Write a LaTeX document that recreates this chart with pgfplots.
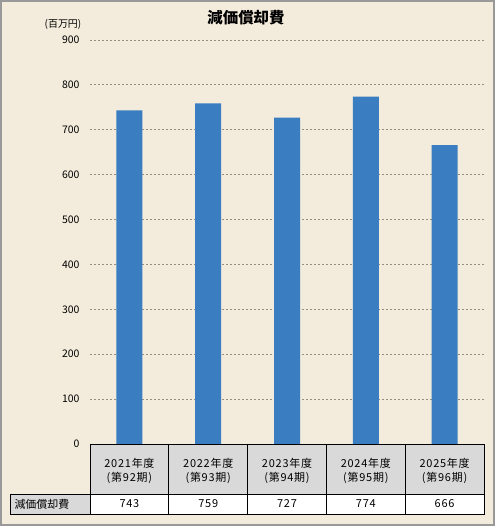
\documentclass[border=0pt]{standalone}
\usepackage{pgfplots}
\pgfplotsset{compat=1.18}
\usepackage{fontspec}
\setmainfont{Noto Sans CJK JP}
\newfontfamily\spaced[LetterSpace=7]{Noto Sans CJK JP}
\definecolor{bg}{RGB}{243,236,220}
\definecolor{barblue}{RGB}{58,125,193}
\definecolor{gridc}{RGB}{150,142,134}
\definecolor{cellgray}{RGB}{217,217,217}
\begin{document}
\begin{tikzpicture}[x=1bp,y=1bp]
\fill[bg] (0,0) rectangle (495,526);
\draw[gray!80, line width=2bp] (1,1) rectangle (494,525);
\begin{axis}[
  at={(90bp,82bp)}, anchor=south west,
  scale only axis, width=394bp, height=404bp,
  xmin=-0.5, xmax=4.5, ymin=0, ymax=900,
  ytick={0,100,...,900},
  xtick=\empty,
  axis line style={draw=none},
  major tick length=0pt,
  ymajorgrids,
  grid style={gridc, dash pattern=on 2bp off 2bp, line width=0.8bp},
  /pgf/number format/assume math mode=true,
  yticklabel style={font=\fontsize{10.5}{11}\selectfont, anchor=east, xshift=-7bp},
  ybar, bar width=26bp,
  clip=false,
]
\addplot[fill=barblue, draw=none] coordinates {(0,743) (1,759) (2,727) (3,774) (4,666)};
\end{axis}
% title and unit
\node[font=\bfseries\fontsize{15.5}{17}\selectfont] at (246,508) {減価償却費};
\node[font=\fontsize{10}{11}\selectfont] at (63,502) {(百万円)};
% table
\fill[cellgray] (90,32) rectangle (484,82);
\fill[cellgray] (10,12) rectangle (90,32);
\fill[white] (90,12) rectangle (484,32);
\draw[black, line width=0.9bp] (90,82) -- (484,82) -- (484,12) -- (10,12) -- (10,32) -- (484,32);
\draw[black, line width=0.9bp] (90,82) -- (90,12);
\foreach \i in {1,2,3,4} {
  \draw[black, line width=0.9bp] ({90+78.8*\i},82) -- ({90+78.8*\i},12);
}
\foreach \i/\y/\k/\v in {0/2021/92/743, 1/2022/93/759, 2/2023/94/727, 3/2024/95/774, 4/2025/96/666} {
  \node[font=\spaced\fontsize{11}{14}\selectfont, align=center] at ({129.4+78.8*\i},55) {\y 年度\\(第\k 期)};
  \node[font=\spaced\fontsize{11}{12}\selectfont] at ({129.4+78.8*\i},22) {\v};
}
\node[font=\fontsize{11}{12}\selectfont, anchor=west] at (11,22) {減価償却費};
\end{tikzpicture}
\end{document}
